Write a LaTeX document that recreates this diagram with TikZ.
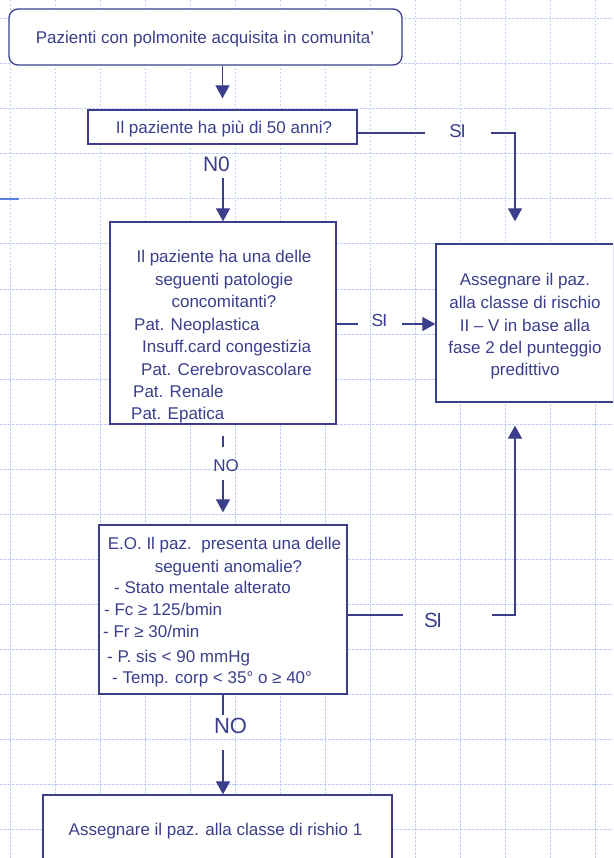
\documentclass[tikz,border=0pt]{standalone}
\usepackage{fontspec}
\setmainfont{Liberation Sans}
\usetikzlibrary{arrows.meta}
\definecolor{navy}{RGB}{58,62,140}
\definecolor{gridc}{RGB}{196,209,246}
\definecolor{markc}{RGB}{90,125,225}
\begin{document}
\begin{tikzpicture}[x=1pt,y=-1pt,
  box/.style={draw=navy, line width=1.3pt, fill=white, inner sep=0pt},
  txt/.style={text=navy, font=\fontsize{17}{20}\selectfont, inner sep=0pt, anchor=base},
  txtw/.style={txt, anchor=base west},
  lbl/.style={text=navy, inner sep=0pt, anchor=base},
  conn/.style={draw=navy, line width=1.2pt},
  arr/.style={conn, -{Triangle[length=13pt,width=14pt]}},
  gridline/.style={draw=gridc, line width=1pt, dash pattern=on 2.5pt off 1.5pt}]
\path[use as bounding box] (0,0) rectangle (613,858);
\clip (0,0) rectangle (613,858);
\fill[white] (0,0) rectangle (613,858);
% grid
\foreach \gx in {10,55,...,595} \draw[gridline] (\gx,0) -- (\gx,858);
\foreach \gy in {19,64,...,829} \draw[gridline] (0,\gy) -- (613,\gy);
\draw[markc, line width=1.3pt] (0,199) -- (19,199);

% boxes
\node[box, rounded corners=9pt, minimum width=393pt, minimum height=56pt] (start) at (205.5,37) {};
\node[txt] (startT) at (205,44) {Pazienti con polmonite acquisita in comunita'};

\node[box, minimum width=269pt, minimum height=34pt] (q1) at (222.5,127) {};
\node[txt] (q1T) at (224,134) {Il paziente ha più di 50 anni?};

\node[box, minimum width=226pt, minimum height=202pt] (q2) at (223,323) {};
\node[txt] (q2a) at (224,263) {Il paziente ha una delle};
\node[txt] (q2b) at (224,285) {seguenti patologie};
\node[txt] (q2c) at (224,307) {concomitanti?};
\node[txtw] (q2d) at (134,330) {Pat. Neoplastica};
\node[txtw] (q2e) at (142,352) {Insuff.card congestizia};
\node[txtw] (q2f) at (141,375) {Pat. Cerebrovascolare};
\node[txtw] (q2g) at (133,397) {Pat. Renale};
\node[txtw] (q2h) at (131,419) {Pat. Epatica};

\node[box, minimum width=178pt, minimum height=158pt] (q4) at (525,323) {};
\node[txt] (q4a) at (525,285) {Assegnare il paz.};
\node[txt] (q4b) at (525,308) {alla classe di rischio};
\node[txt] (q4c) at (525,331) {II – V in base alla};
\node[txt] (q4d) at (525,353) {fase 2 del punteggio};
\node[txt] (q4e) at (525,375) {predittivo};

\node[box, minimum width=248pt, minimum height=169pt] (q5) at (223,609.5) {};
\node[txt] (q5a) at (224.5,549) {E.O. Il paz.\ \ presenta una delle};
\node[txt] (q5b) at (228.5,572) {seguenti anomalie?};
\node[txtw] (q5c) at (114,593) {- Stato mentale alterato};
\node[txtw] (q5d) at (104,615) {- Fc ≥ 125/bmin};
\node[txtw] (q5e) at (103,637) {- Fr ≥ 30/min};
\node[txtw] (q5f) at (107,662) {- P. sis < 90 mmHg};
\node[txtw] (q5g) at (112,683) {- Temp. corp < 35° o ≥ 40°};

\node[box, minimum width=349pt, minimum height=85pt] (q6) at (217.5,837.5) {};
\node[txt] (q6T) at (215.5,835) {Assegnare il paz. alla classe di rishio 1};

% labels
\node[lbl, font=\fontsize{21}{21}\selectfont] (n0) at (216.5,172) {N0};
\node[lbl, font=\fontsize{18.5}{19}\selectfont] (si1) at (457.5,138) {S\kern-1.2pt I};
\node[lbl, font=\fontsize{17.5}{18}\selectfont] (si2) at (379.5,326) {S\kern-1pt I};
\node[lbl, font=\fontsize{17}{18}\selectfont] (no2) at (226,471) {NO};
\node[lbl, font=\fontsize{20.5}{21}\selectfont] (si3) at (433,627) {S\kern-1.5pt I};
\node[lbl, font=\fontsize{22}{22}\selectfont] (no3) at (230.5,733) {NO};

% connector end points
\coordinate (a1) at (425,133);
\coordinate (a2) at (491,133);
\coordinate (a3) at (515,133);
\coordinate (b1) at (358,324);
\coordinate (b2) at (402,324);
\coordinate (c1) at (403,615);
\coordinate (c2) at (492,615);
\coordinate (c3) at (515,615);
\coordinate (d1) at (223,715);
\coordinate (d2) at (223,750);
\coordinate (e2) at (223,447);
\coordinate (e3) at (223,480);

% connectors
\draw[arr, shorten >=11pt] (start.south -| q1.north) -- (q1.north);
\draw[arr, shorten <=6pt] (n0.south -| q2.north) -- (q2.north);
\draw[conn] (q1.east |- a1) -- (a1);
\draw[arr, shorten >=22pt] (a2) -- (a3) -- (a3 |- q4.north);
\draw[conn] (q2.east |- b1) -- (b1);
\draw[arr] (b2) -- (b2 -| q4.west);
\draw[conn, shorten <=11pt] (q2.south) -- (e2);
\draw[arr, shorten >=12pt] (e3) -- (q5.north);
\draw[conn] (q5.east |- c1) -- (c1);
\draw[arr, shorten >=23pt] (c2) -- (c3) -- (c3 |- q4.south);
\draw[conn] (q5.south) -- (d1);
\draw[arr] (d2) -- (q6.north -| d2);
\end{tikzpicture}
\end{document}
